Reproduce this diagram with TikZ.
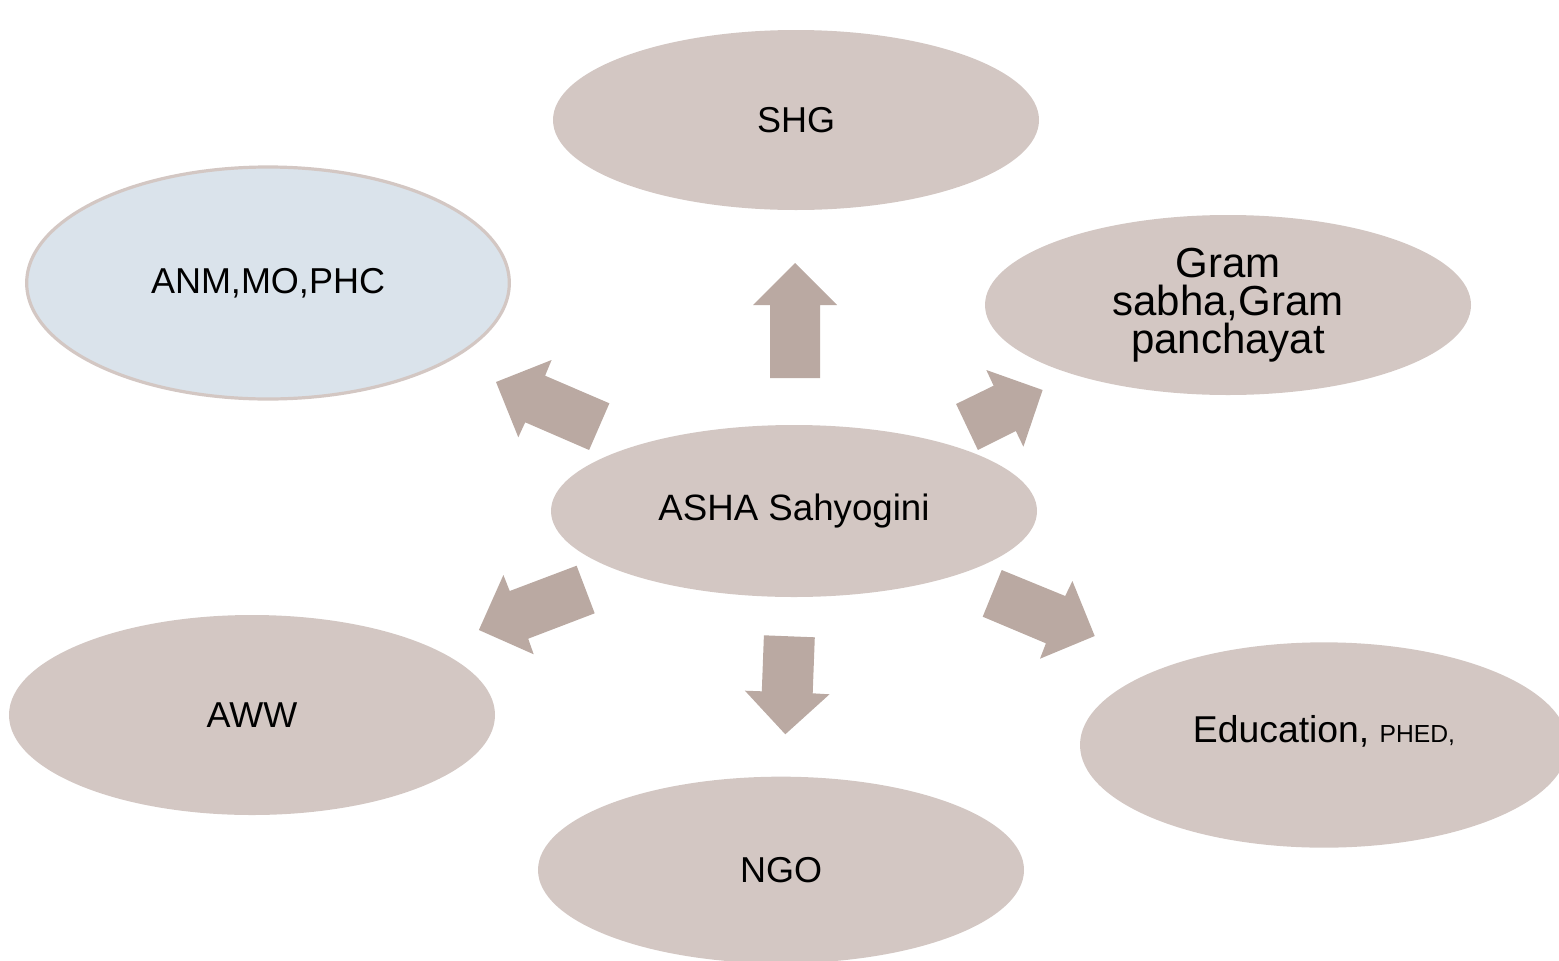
\documentclass[tikz,border=0pt]{standalone}
\usepackage{fontspec}
\setmainfont{Liberation Sans}
\usetikzlibrary{shapes.geometric}
\definecolor{taupe}{RGB}{211,199,195}
\definecolor{arrowtaupe}{RGB}{186,169,162}
\definecolor{paleblue}{RGB}{218,227,235}
\tikzset{
  bubble/.style={ellipse, fill=taupe, inner sep=0pt, align=center,
    font=\fontsize{27}{31}\selectfont},
  blockarrow/.style={fill=arrowtaupe},
}
\begin{document}
\begin{tikzpicture}[x=0.75pt, y=-0.75pt]
\useasboundingbox (0,0) rectangle (1559,960);
\begin{scope}
\clip (0,0) rectangle (1559,960);

% outer partners
\node[bubble, minimum width=364.5pt, minimum height=135pt] (shg) at (796,120) {SHG};
\node[bubble, fill=paleblue, draw=taupe, line width=2.4pt,
      minimum width=362pt, minimum height=174pt] (anm) at (268,283) {ANM,MO,PHC};
\node[bubble, minimum width=364.5pt, minimum height=135pt,
      font=\fontsize{31.5}{28.5}\selectfont] (gram) at (1228,305)
      {Gram\\sabha,Gram\\panchayat};
\node[bubble, minimum width=364.5pt, minimum height=129pt,
      font=\fontsize{27.5}{31}\selectfont] (asha) at (794,511) {ASHA Sahyogini};
\node[bubble, minimum width=364.5pt, minimum height=150pt] (aww) at (252,715) {AWW};
\node[bubble, minimum width=364.5pt, minimum height=140pt] (ngo) at (781,870) {NGO};
\node[bubble, minimum width=366pt, minimum height=154pt,
      font=\fontsize{28}{32}\selectfont] (edu) at (1324,745)
      {\raisebox{24pt}{Education, {\fontsize{18.5}{22}\selectfont PHED,}}};
\end{scope}

% block arrows radiating from the centre
% up, towards SHG
\fill[blockarrow] (795,263) -- (837,305) -- (820,305) -- (820,378)
  -- (770,378) -- (770,305) -- (753,305) -- cycle;
% upper left, towards ANM,MO,PHC
\fill[blockarrow] (496,382) -- (551.6,360) -- (545.1,375.7) -- (609.4,403.3)
  -- (589.1,450) -- (525.2,422.3) -- (518.3,437.3) -- cycle;
% upper right, towards Gram sabha
\fill[blockarrow] (1042.6,390) -- (986.3,370) -- (993.6,385.7) -- (956.1,404)
  -- (977.9,450) -- (1015.8,431) -- (1023.4,446.7) -- cycle;
% down, towards NGO
\fill[blockarrow] (763.9,635.3) -- (814.8,637.3) -- (812.7,693.3) -- (829.5,694.3)
  -- (785.3,734.3) -- (744.9,690.7) -- (761.8,691.3) -- cycle;
% lower left, towards AWW
\fill[blockarrow] (478.9,630) -- (503.4,575) -- (509.7,591) -- (576.6,565.7)
  -- (594.7,613.3) -- (528.2,638.7) -- (533.7,654.3) -- cycle;
% lower right, towards Education, PHED
\fill[blockarrow] (1001.7,570) -- (1065.2,596) -- (1072.4,581) -- (1094.7,636)
  -- (1040,658.7) -- (1045.9,643.3) -- (982.7,616.7) -- cycle;
\end{tikzpicture}
\end{document}
